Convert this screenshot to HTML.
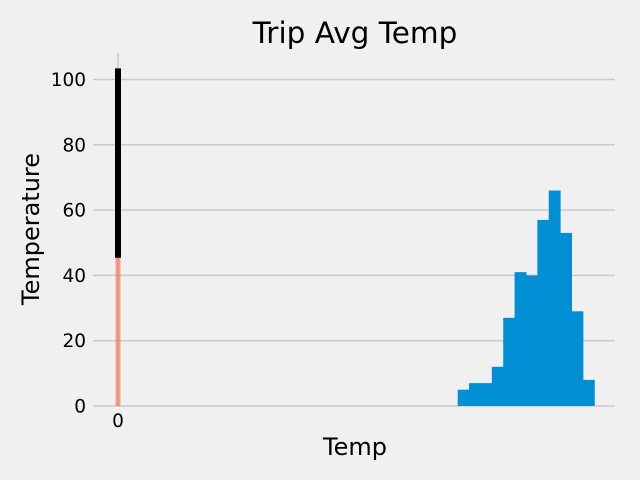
<!DOCTYPE html>
<html><head><meta charset="utf-8"><style>
body{margin:0;background:#f0f0f0;}
svg{display:block;font-family:"DejaVu Sans","Liberation Sans",sans-serif;}
</style></head><body>
<svg id="chart" width="640" height="480">
<rect width="640" height="480" fill="#f0f0f0"/>
<g id="grid"></g>
<g id="marks"></g>
<g id="ticks"></g>
<text x="355" y="43" text-anchor="middle" font-size="29.5" fill="#000">Trip Avg Temp</text>
<text x="355" y="455" text-anchor="middle" font-size="24" fill="#000">Temp</text>
<text transform="translate(39,229) rotate(-90)" text-anchor="middle" font-size="24" fill="#000">Temperature</text>
</svg>
<script>
const yTicks=[0,20,40,60,80,100];
const xTicks=[0];
const barX=[0];
const barVals=[74.4];
const barErr=[29];
const histEdges=[59.7,61.7,63.7,65.7,67.7,69.7,71.7,73.7,75.7,77.7,79.7,81.7,83.7];
const histCounts=[5,7,7,12,27,41,40,57,66,53,29,8];
const NS="http://www.w3.org/2000/svg";
const X=v=>118+v*5.69;
const Y=v=>406-v*3.265;
function mk(tag,attrs,parent){const e=document.createElementNS(NS,tag);for(const k in attrs)e.setAttribute(k,attrs[k]);document.getElementById(parent).appendChild(e);return e;}
yTicks.forEach(t=>{
 const l=mk('line',{x1:93,x2:615,y1:Y(t),y2:Y(t),stroke:'#cbcbcb','stroke-width':1.5},'grid');
 
 
 const tx=mk('text',{x:86,y:Y(t)+6.5,'text-anchor':'end','font-size':18.5,fill:'#000'},'ticks');
 tx.textContent=t;
 
 
});
xTicks.forEach(t=>{
 const l=mk('line',{x1:X(t),x2:X(t),y1:53,y2:406,stroke:'#cbcbcb','stroke-width':1.5},'grid');
 
 
 const tx=mk('text',{x:X(t),y:427,'text-anchor':'middle','font-size':18.5,fill:'#000'},'ticks');
 tx.textContent=t;
 
 
});
histCounts.forEach((c,i)=>{
 const x0=X(histEdges[i]),x1=X(histEdges[i+1]);
 const r=mk('rect',{x:x0,y:Y(c),width:x1-x0+0.5,height:Y(0)-Y(c),fill:'#008fd5'},'marks');
 
 
});
barVals.forEach((v,i)=>{
 const cx=X(barX[i]);
 const r=mk('rect',{x:cx-2.5,y:Y(v),width:5,height:Y(0)-Y(v),fill:'#fc4f30','fill-opacity':0.5},'marks');
 
 
 const e=mk('line',{x1:cx,x2:cx,y1:Y(v-barErr[i]),y2:Y(v+barErr[i]),stroke:'#000','stroke-width':6},'marks');
 
 
});
</script>
</body></html>
